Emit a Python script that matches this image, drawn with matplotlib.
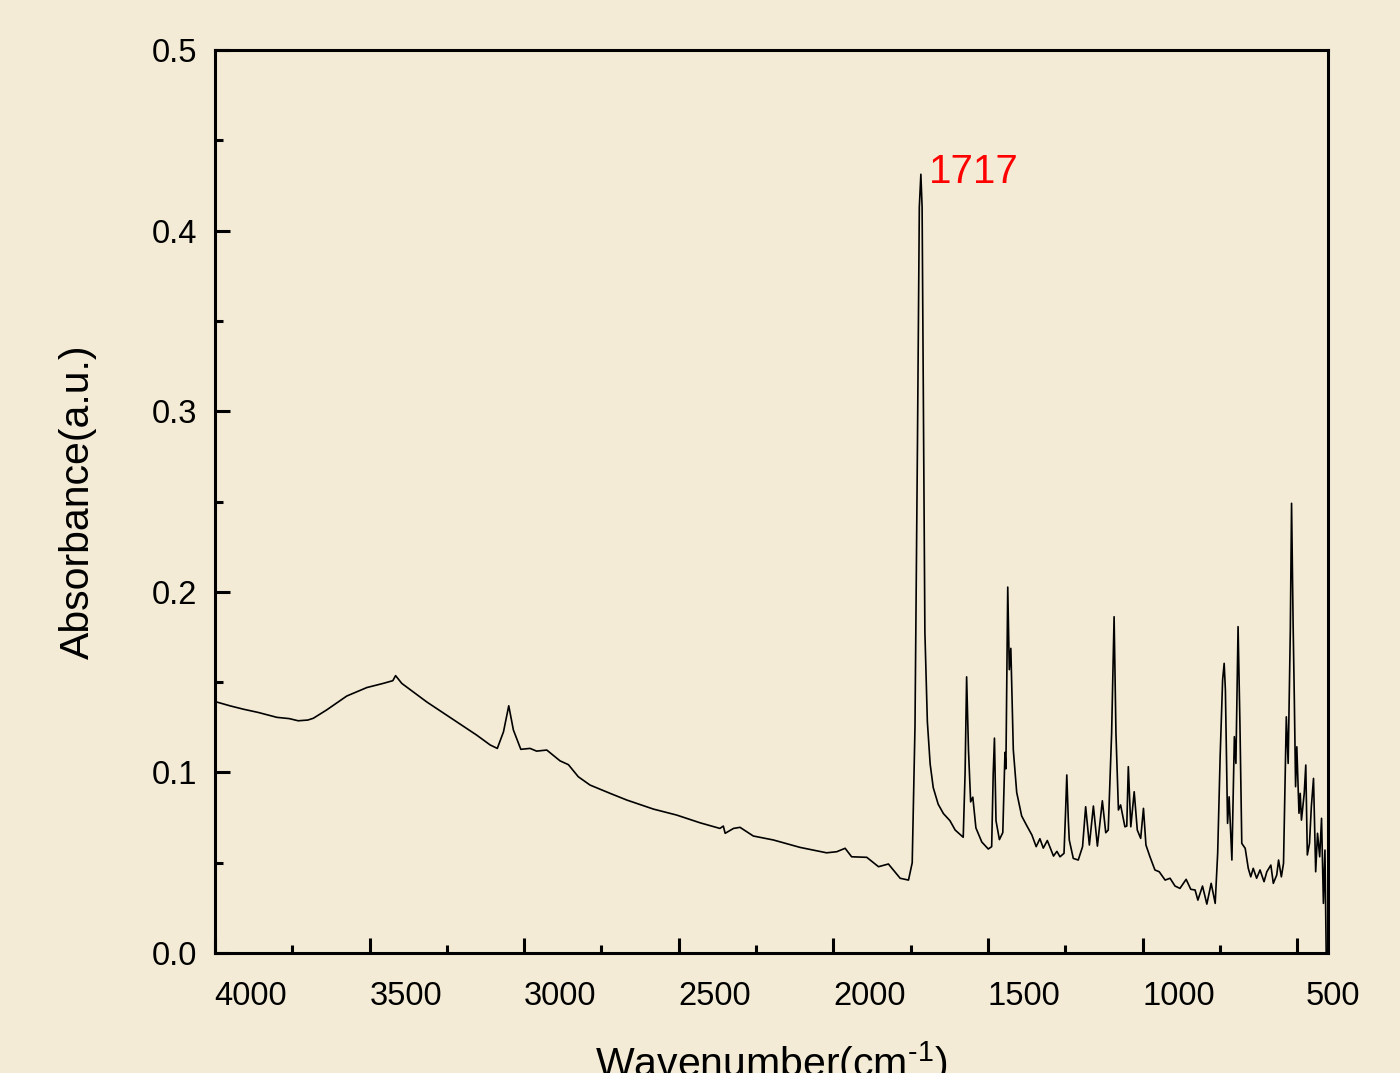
import numpy as np
import matplotlib
matplotlib.use("Agg")
import matplotlib.pyplot as plt
import matplotlib.transforms as mtransforms
from matplotlib.ticker import MultipleLocator

BG = "#f3ebd5"

plt.rcParams["font.family"] = ["Liberation Sans", "DejaVu Sans"]
plt.rcParams["mathtext.fontset"] = "custom"
plt.rcParams["mathtext.rm"] = "Liberation Sans"
plt.rcParams["mathtext.it"] = "Liberation Sans:italic"

# FTIR spectrum (wavenumber in cm-1, absorbance)
wavenumber = [
    3995, 3950, 3908, 3860, 3800, 3760, 3731, 3700, 3682, 3639, 3574, 3509, 3456, 3425,
    3416, 3396, 3315, 3218, 3154, 3110, 3087, 3067, 3050, 3035, 3011, 2981,
    2960, 2927, 2884, 2857, 2825, 2787, 2722, 2668, 2582, 2507, 2431, 2367,
    2356, 2350, 2323, 2302, 2259, 2194, 2108, 2022, 1989, 1962, 1941, 1892,
    1854, 1822, 1784, 1757, 1745, 1736, 1728, 1722, 1717, 1713, 1709, 1704,
    1696, 1687, 1677, 1661, 1644, 1623, 1606, 1580, 1574, 1569, 1563, 1556,
    1549, 1539, 1520, 1499, 1488, 1483, 1479, 1474, 1463, 1452, 1445, 1442,
    1436, 1431, 1426, 1418, 1407, 1391, 1375, 1358, 1344, 1332, 1321, 1308,
    1288, 1277, 1267, 1254, 1249, 1245, 1240, 1237, 1224, 1208, 1194, 1184,
    1172, 1159, 1146, 1130, 1119, 1111, 1100, 1092, 1086, 1078, 1071, 1057,
    1051, 1046, 1038, 1027, 1017, 1006, 997, 989, 976, 960, 946, 927,
    911, 895, 879, 859, 844, 830, 821, 806, 792, 778, 765, 757,
    749, 741, 736, 732, 725, 720, 711, 703, 698, 691, 685, 679,
    668, 658, 650, 642, 631, 620, 607, 598, 585, 577, 566, 560,
    551, 544, 535, 529, 522, 518, 513, 509, 505, 501, 494, 490,
    486, 477, 472, 467, 460, 454, 447, 440, 434, 427, 421, 415,
    410, 406,
]
absorbance = [
    0.1390, 0.1368, 0.1350, 0.1332, 0.1305, 0.1298, 0.1286, 0.1290, 0.1300, 0.1346, 0.1423, 0.1470, 0.1493, 0.1508,
    0.1536, 0.1493, 0.1390, 0.1280, 0.1207, 0.1152, 0.1133, 0.1225, 0.1369, 0.1235, 0.1128, 0.1133,
    0.1118, 0.1124, 0.1064, 0.1043, 0.0976, 0.0930, 0.0884, 0.0847, 0.0797, 0.0764, 0.0721, 0.0690,
    0.0703, 0.0663, 0.0690, 0.0696, 0.0648, 0.0626, 0.0585, 0.0555, 0.0561, 0.0580, 0.0533, 0.0530,
    0.0478, 0.0493, 0.0414, 0.0404, 0.0500, 0.1255, 0.2823, 0.4130, 0.4312, 0.4130, 0.3084, 0.1777,
    0.1281, 0.1047, 0.0916, 0.0824, 0.0772, 0.0733, 0.0681, 0.0641, 0.0994, 0.1529, 0.1124, 0.0837,
    0.0863, 0.0693, 0.0615, 0.0576, 0.0589, 0.0994, 0.1190, 0.0733, 0.0628, 0.0667, 0.1111, 0.1020,
    0.2026, 0.1569, 0.1687, 0.1125, 0.0889, 0.0759, 0.0707, 0.0654, 0.0589, 0.0633, 0.0581, 0.0623,
    0.0537, 0.0563, 0.0533, 0.0552, 0.0780, 0.0986, 0.0733, 0.0626, 0.0524, 0.0515, 0.0589, 0.0810,
    0.0598, 0.0814, 0.0592, 0.0843, 0.0666, 0.0681, 0.1216, 0.1862, 0.1216, 0.0792, 0.0820, 0.0699,
    0.0703, 0.1032, 0.0699, 0.0893, 0.0681, 0.0635, 0.0801, 0.0598, 0.0533, 0.0460, 0.0450, 0.0404,
    0.0414, 0.0371, 0.0358, 0.0408, 0.0353, 0.0349, 0.0293, 0.0371, 0.0271, 0.0386, 0.0275, 0.0552,
    0.1087, 0.1512, 0.1604, 0.1456, 0.0718, 0.0865, 0.0515, 0.1198, 0.1050, 0.1807, 0.1272, 0.0607,
    0.0580, 0.0469, 0.0422, 0.0469, 0.0414, 0.0460, 0.0395, 0.0450, 0.0487, 0.0386, 0.0432, 0.0515,
    0.0422, 0.0497, 0.1308, 0.1050, 0.1788, 0.2490, 0.1825, 0.1401, 0.0921, 0.1142, 0.0774, 0.0884,
    0.0736, 0.0884, 0.1041, 0.0543, 0.0607, 0.0810, 0.0967, 0.0450, 0.0663, 0.0533, 0.0746, 0.0275,
    0.0570, 0.0000,
]

peak_label = "1717"
peak_pos = 1717
peak_val = 0.4312

fig = plt.figure(figsize=(14, 10.73), dpi=100, facecolor=BG)
ax = fig.add_axes([0.1536, 0.1118, 0.795, 0.8416])
ax.set_facecolor(BG)

ax.plot(wavenumber, absorbance, color="black", linewidth=1.2)

ax.text(peak_pos - 25, peak_val - 0.005, peak_label, color="red", fontsize=29,
        ha="left", va="baseline")

ax.set_xlim(4000, 400)
ax.set_ylim(0, 0.5)
ax.xaxis.set_major_locator(MultipleLocator(500))
ax.xaxis.set_minor_locator(MultipleLocator(250))
ax.yaxis.set_major_locator(MultipleLocator(0.1))
ax.yaxis.set_minor_locator(MultipleLocator(0.05))
ax.yaxis.set_major_formatter(matplotlib.ticker.FormatStrFormatter("%.1f"))

ax.tick_params(which="both", direction="in", width=2.2, labelsize=23.5,
               top=False, right=False)
ax.tick_params(which="major", length=11)
ax.tick_params(which="minor", length=5.5)
ax.tick_params(axis="x", which="major", pad=20)
ax.tick_params(axis="y", which="major", pad=13)
for sp in ax.spines.values():
    sp.set_linewidth(2.2)

ax.set_ylabel("Absorbance(a.u.)", fontsize=29.5, labelpad=39)
ax.set_xlabel(r"Wavenumber(cm$^{\text{-1}}$)", fontsize=29.5, labelpad=20)

# the original's x tick labels sit a bit to the right of their ticks
shift = mtransforms.ScaledTranslation(0.36, 0, fig.dpi_scale_trans)
for lab in ax.xaxis.get_majorticklabels():
    lab.set_transform(lab.get_transform() + shift)

fig.savefig("out.png", dpi=100, facecolor=BG)
